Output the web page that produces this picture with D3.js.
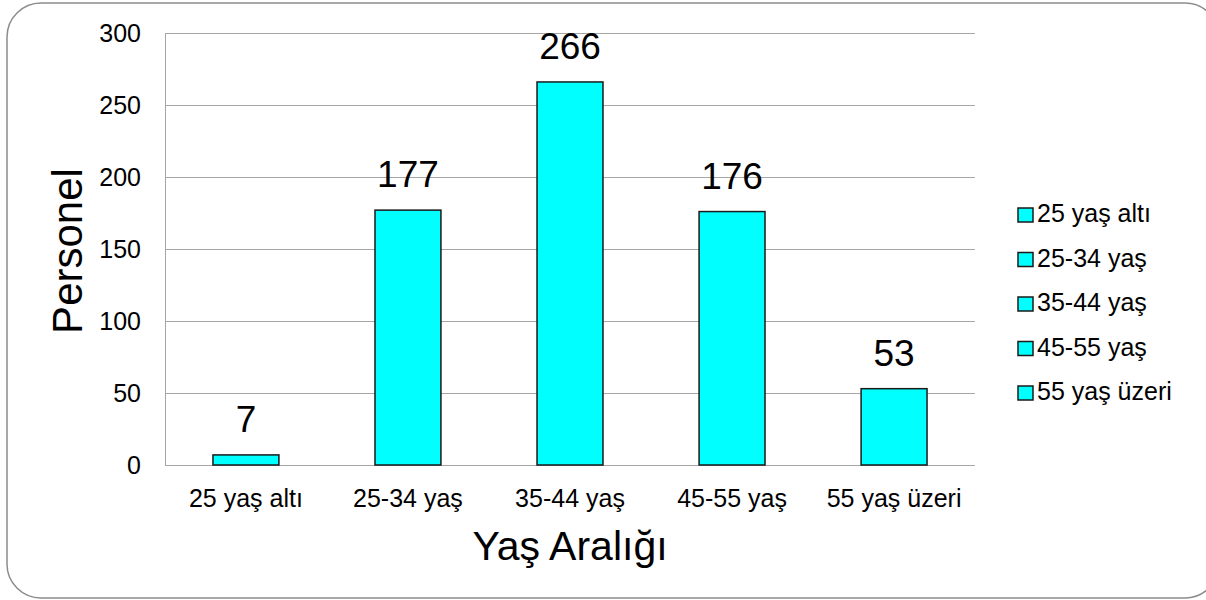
<!DOCTYPE html>
<html>
<head>
<meta charset="utf-8">
<script src="https://d3js.org/d3.v7.min.js"></script>
<style>
  body { margin: 0; background: #fff; }
  text { font-family: "Liberation Sans", Arial, sans-serif; fill: #000; }
</style>
</head>
<body>
<svg width="1206" height="600"></svg>
<script>
// chart data
const categories = ["25 yaş altı", "25-34 yaş", "35-44 yaş", "45-55 yaş", "55 yaş üzeri"];
const values = [7, 177, 266, 176, 53];
const yTicks = [0, 50, 100, 150, 200, 250, 300];

const svg = d3.select("svg");

// rounded frame
svg.append("rect")
  .attr("x", 7).attr("y", 3)
  .attr("width", 1212).attr("height", 595)
  .attr("rx", 34).attr("ry", 34)
  .attr("fill", "#fff")
  .attr("stroke", "#8c8c8c")
  .attr("stroke-width", 1.5);

const plot = { left: 165, right: 975, top: 33, bottom: 465 };

const x = d3.scaleBand()
  .domain(categories)
  .range([plot.left, plot.right])
  .paddingInner(0.593)
  .paddingOuter(0.296);

const y = d3.scaleLinear()
  .domain([0, 300])
  .range([plot.bottom, plot.top]);

// gridlines
svg.append("g")
  .selectAll("line")
  .data(yTicks)
  .enter().append("line")
  .attr("x1", plot.left).attr("x2", plot.right)
  .attr("y1", d => y(d) + 0.5).attr("y2", d => y(d) + 0.5)
  .attr("stroke", "#a6a6a6")
  .attr("stroke-width", 1);

// left axis line
svg.append("line")
  .attr("x1", plot.left + 0.5).attr("x2", plot.left + 0.5)
  .attr("y1", plot.top).attr("y2", plot.bottom)
  .attr("stroke", "#a6a6a6");

// y tick labels
svg.append("g")
  .selectAll("text")
  .data(yTicks)
  .enter().append("text")
  .attr("x", plot.left - 24)
  .attr("y", d => y(d))
  .attr("dy", "0.36em")
  .attr("text-anchor", "end")
  .style("font-size", "25px")
  .text(d => d);

// bars
svg.append("g")
  .selectAll("rect")
  .data(values)
  .enter().append("rect")
  .attr("x", (d, i) => x(categories[i]))
  .attr("y", d => y(d))
  .attr("width", x.bandwidth())
  .attr("height", d => y(0) - y(d))
  .attr("fill", "#00ffff")
  .attr("stroke", "#1a1a1a")
  .attr("stroke-width", 1.5);

// value labels
svg.append("g")
  .selectAll("text")
  .data(values)
  .enter().append("text")
  .attr("x", (d, i) => x(categories[i]) + x.bandwidth() / 2)
  .attr("y", d => y(d) - 23)
  .attr("text-anchor", "middle")
  .style("font-size", "37px")
  .text(d => d);

// x tick labels
svg.append("g")
  .selectAll("text")
  .data(categories)
  .enter().append("text")
  .attr("x", d => x(d) + x.bandwidth() / 2)
  .attr("y", 507)
  .attr("text-anchor", "middle")
  .style("font-size", "25px")
  .text(d => d);

// axis titles
svg.append("text")
  .attr("x", 570).attr("y", 560)
  .attr("text-anchor", "middle")
  .style("font-size", "41px")
  .text("Yaş Aralığı");

svg.append("text")
  .attr("transform", "translate(82,251) rotate(-90)")
  .attr("text-anchor", "middle")
  .style("font-size", "42px")
  .text("Personel");

// legend
const legend = svg.append("g")
  .selectAll("g")
  .data(categories)
  .enter().append("g")
  .attr("transform", (d, i) => `translate(1018,${222 + i * 44.5})`);

legend.append("rect")
  .attr("x", 0).attr("y", -14)
  .attr("width", 15).attr("height", 14)
  .attr("fill", "#00ffff")
  .attr("stroke", "#1a1a1a")
  .attr("stroke-width", 1.5);

legend.append("text")
  .attr("x", 19)
  .attr("y", 0)
  .style("font-size", "25px")
  .text(d => d);
</script>
</body>
</html>
